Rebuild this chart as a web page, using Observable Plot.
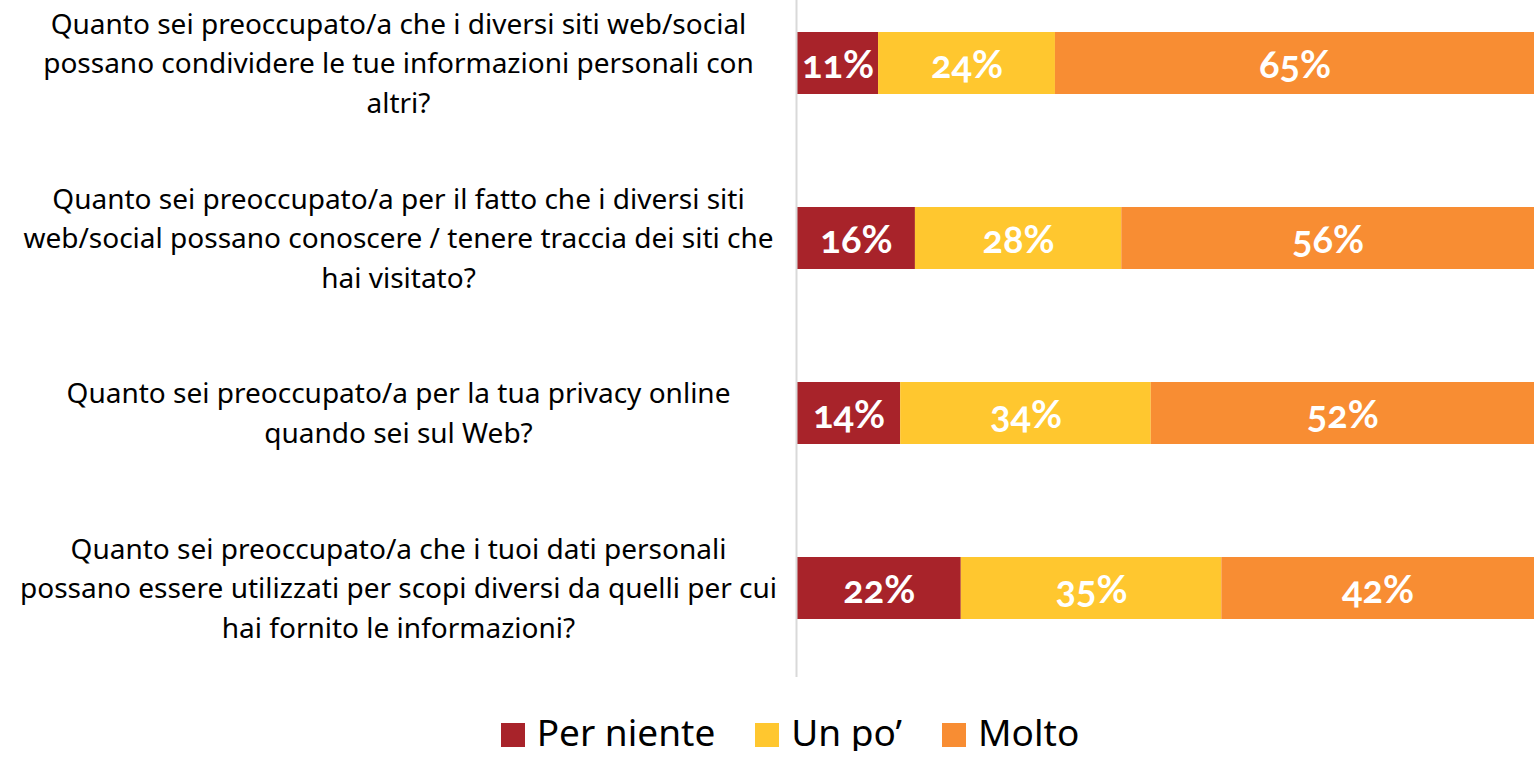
<!DOCTYPE html>
<html>
<head>
<meta charset="utf-8">
<script src="https://cdn.jsdelivr.net/npm/d3@7"></script>
<script src="https://cdn.jsdelivr.net/npm/@observablehq/plot@0.6"></script>
<style>
  html, body { margin: 0; padding: 0; background: #fff; overflow: hidden; }
  #chart { width: 1540px; }
  .legend { display: flex; justify-content: center; align-items: center; height: 38px; padding-top: 13px; font-family: "Noto Sans", sans-serif; font-size: 37px; line-height: 38px; color: #000; padding-left: 40px; }
  .legend .item { display: flex; align-items: center; margin: 0 20px; }
  .legend .sw { width: 24px; height: 24px; margin-right: 12px; margin-top: 6px; }
</style>
</head>
<body>
<div id="chart"></div>
<script>
const questions = [
  "Quanto sei preoccupato/a che i diversi siti web/social\npossano condividere le tue informazioni personali con\naltri?",
  "Quanto sei preoccupato/a per il fatto che i diversi siti\nweb/social possano conoscere / tenere traccia dei siti che\nhai visitato?",
  "Quanto sei preoccupato/a per la tua privacy online\nquando sei sul Web?",
  "Quanto sei preoccupato/a che i tuoi dati personali\npossano essere utilizzati per scopi diversi da quelli per cui\nhai fornito le informazioni?"
];
const categories = ["Per niente", "Un po’", "Molto"];
const colors = ["#A8232A", "#FFC72F", "#F88D33"];
const perNiente = [11, 16, 14, 22];
const unPo = [24, 28, 34, 35];
const molto = [65, 56, 52, 42];

const series = [perNiente, unPo, molto];
const data = [];
questions.forEach((q, i) => {
  categories.forEach((c, j) => data.push({q, cat: c, value: series[j][i]}));
});

const stackOpts = {x: "value", y: "q", z: "cat", offset: "normalize", order: categories};

const plot = Plot.plot({
  width: 1540,
  height: 700,
  marginLeft: 797,
  marginRight: 6,
  marginTop: 0,
  marginBottom: 23,
  x: {axis: null},
  y: {domain: questions, paddingInner: 0.647, paddingOuter: 0.25, align: 0.353, label: null},
  color: {domain: categories, range: colors},
  style: {fontFamily: "Noto Sans, sans-serif", background: "#fff"},
  marks: [
    Plot.barX(data, Plot.stackX({...stackOpts, fill: "cat"})),
    Plot.text(data, Plot.stackX({...stackOpts, text: d => d.value + "%", fill: "white", fontSize: 38, fontWeight: "bold", fontFamily: "Lato, sans-serif", fontVariant: "oldstyle-nums", dy: 2})),
    Plot.axisY({tickSize: 0, tickPadding: 399, textAnchor: "middle", fontSize: 28, lineHeight: 1.41, fill: "#000", dy: -3, label: null}),
    Plot.ruleX([0], {stroke: "#d9d9d9", strokeWidth: 2, dx: -1})
  ]
});
document.getElementById("chart").appendChild(plot);

const legend = document.createElement("div");
legend.className = "legend";
categories.forEach((c, j) => {
  const item = document.createElement("div");
  item.className = "item";
  const sw = document.createElement("span");
  sw.className = "sw";
  sw.style.background = colors[j];
  const t = document.createElement("span");
  t.textContent = c;
  item.appendChild(sw);
  item.appendChild(t);
  legend.appendChild(item);
});
document.getElementById("chart").appendChild(legend);
</script>
</body>
</html>
